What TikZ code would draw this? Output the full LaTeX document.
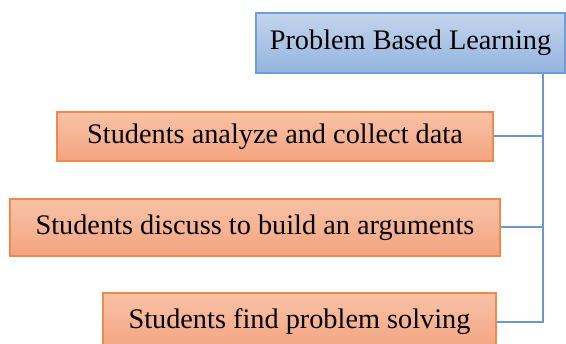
\documentclass[tikz,border=0pt]{standalone}
\usepackage{fontspec}
\setmainfont{Liberation Serif}
\definecolor{bluetop}{HTML}{C3D5EC}
\definecolor{bluebot}{HTML}{94B4DE}
\definecolor{blueedge}{HTML}{6F9FD6}
\definecolor{orgtop}{HTML}{F8C2A7}
\definecolor{orgbot}{HTML}{F4A47F}
\definecolor{orgedge}{HTML}{EF8A4C}
\definecolor{connc}{HTML}{6D97C9}
\tikzset{
  box/.style={draw, line width=1.5pt, inner sep=0pt, align=center,
    font=\fontsize{28.3}{30}\selectfont},
  bluebox/.style={box, draw=blueedge, top color=bluetop, bottom color=bluebot},
  orangebox/.style={box, draw=orgedge, top color=orgtop, bottom color=orgbot},
  conn/.style={draw=connc, line width=2pt}
}
\begin{document}
\begin{tikzpicture}[x=1pt,y=-1pt]
\useasboundingbox (0,0) rectangle (566,344);
\clip (0,0) rectangle (566,344);
\fill[white] (0,0) rectangle (566,344);
\node[bluebox, minimum width=309pt, minimum height=60pt] (top) at (410.5,43) {Problem Based Learning};
\node[orangebox, minimum width=436pt, minimum height=49pt] (b1) at (275,136.5) {Students analyze and collect data};
\node[orangebox, minimum width=490pt, minimum height=57pt] (b2) at (255,227.5) {Students discuss to build an arguments};
\node[orangebox, minimum width=393pt, minimum height=58pt] (b3) at (299.5,322) {Students find problem solving};
\coordinate (spine) at (543,0);
\draw[conn] (spine |- top.south) |- (b3.east);
\draw[conn] (b1.east) -- (b1.east -| spine);
\draw[conn] (b2.east) -- (b2.east -| spine);
\end{tikzpicture}
\end{document}
